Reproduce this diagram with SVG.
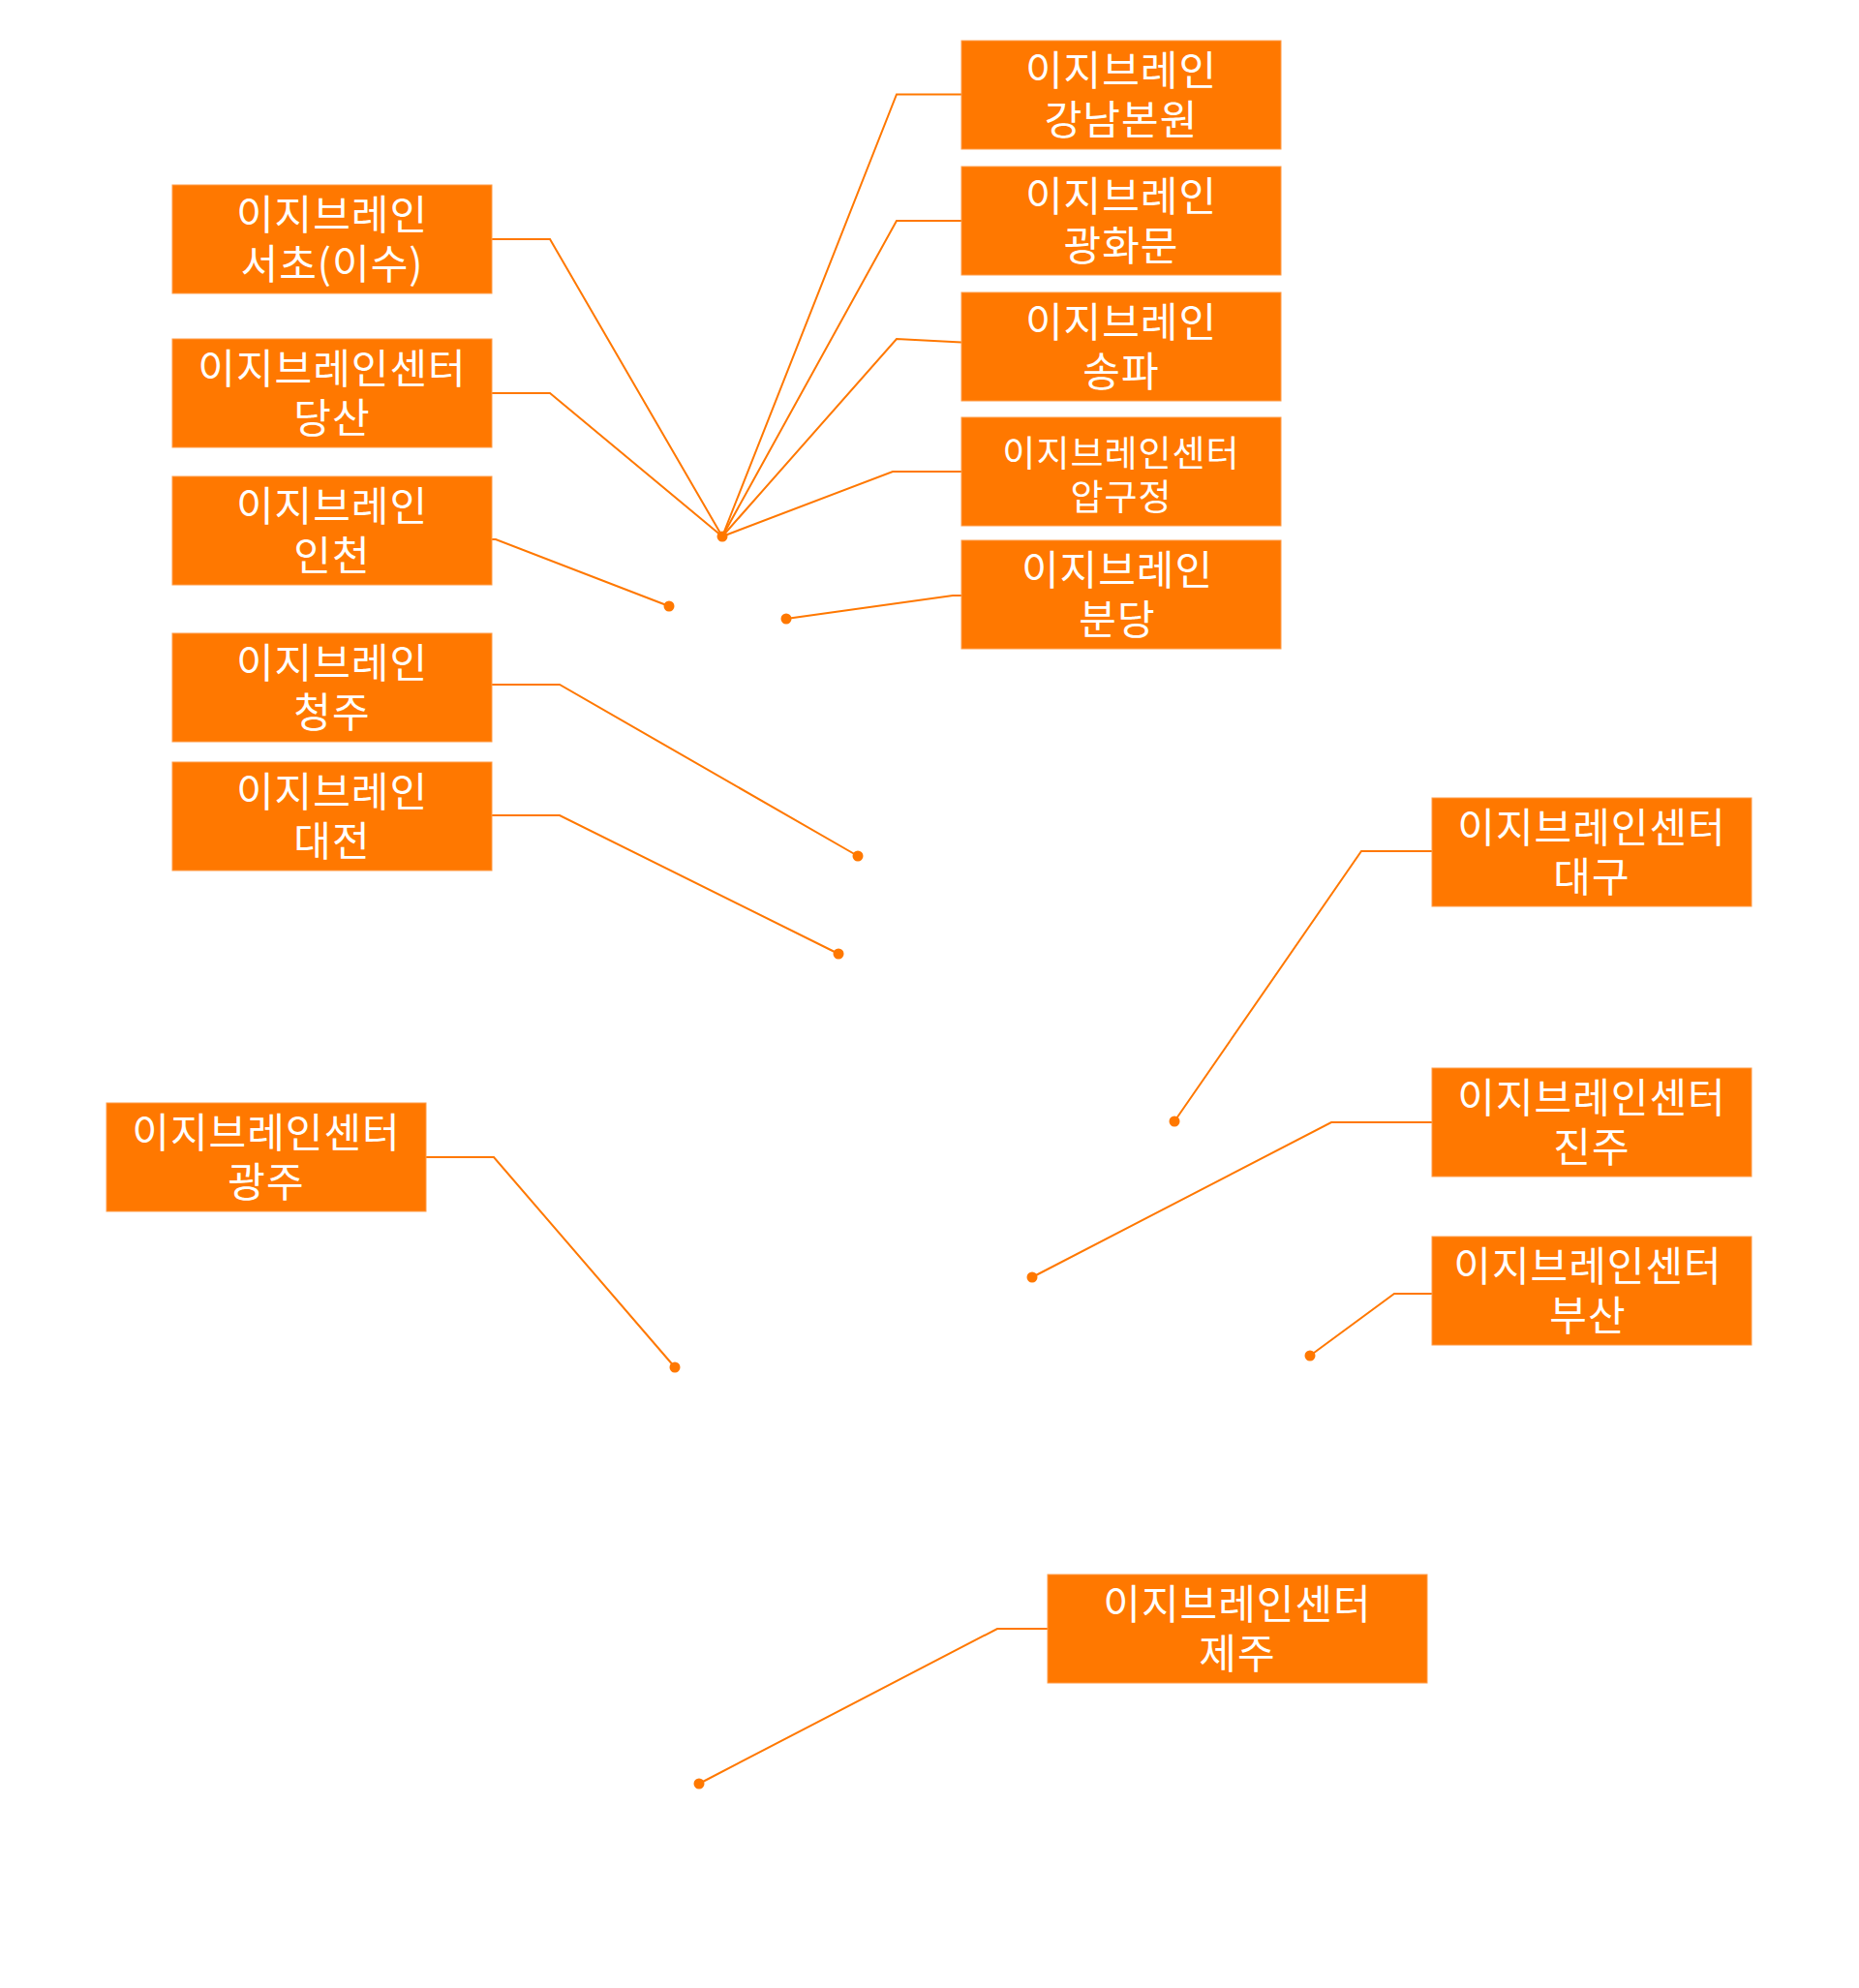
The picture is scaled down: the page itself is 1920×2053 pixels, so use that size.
<svg xmlns="http://www.w3.org/2000/svg" width="1920" height="2053" viewBox="0 0 1920 2053">
<style>
.box{fill:#FF7800;stroke:#FF9C48;stroke-width:1}
.t{fill:#ffffff;font-family:"Noto Sans CJK KR","Noto Sans",sans-serif;font-size:42px;letter-spacing:1px;text-anchor:middle}
.ts{font-size:37px}
.ln{fill:none;stroke:#FF7800;stroke-width:2;stroke-linejoin:miter}
.dot{fill:#FF7800}
</style>
<rect width="1920" height="2053" fill="#ffffff"/>
<g id="connectors">
<path class="ln" d="M993,97.5 L926,97.5 L746,554"/>
<path class="ln" d="M993,228 L926,228 L746,554"/>
<path class="ln" d="M993,353.5 L926,350 L746,554"/>
<path class="ln" d="M993,487 L922,487 L746,554"/>
<path class="ln" d="M508,247 L568,247 L746,554"/>
<path class="ln" d="M508,406 L568,406 L746,554"/>
<path class="ln" d="M508,557 L512,557 L691,626"/>
<path class="ln" d="M993,615 L984,615 L812,639"/>
<path class="ln" d="M508,707 L578,707 L886,884"/>
<path class="ln" d="M508,842 L578,842 L866,985"/>
<path class="ln" d="M1479,879 L1406,879 L1213,1158"/>
<path class="ln" d="M1479,1159 L1375,1159 L1066,1319"/>
<path class="ln" d="M1479,1336 L1440,1336 L1353,1400"/>
<path class="ln" d="M440,1195 L510,1195 L697,1412"/>
<path class="ln" d="M1082,1682 L1030,1682 L722,1842"/>
<circle class="dot" cx="746" cy="554" r="5.5"/>
<circle class="dot" cx="691" cy="626" r="5.5"/>
<circle class="dot" cx="812" cy="639" r="5.5"/>
<circle class="dot" cx="886" cy="884" r="5.5"/>
<circle class="dot" cx="866" cy="985" r="5.5"/>
<circle class="dot" cx="1213" cy="1158" r="5.5"/>
<circle class="dot" cx="1066" cy="1319" r="5.5"/>
<circle class="dot" cx="1353" cy="1400" r="5.5"/>
<circle class="dot" cx="697" cy="1412" r="5.5"/>
<circle class="dot" cx="722" cy="1842" r="5.5"/>
</g>
<g id="gangnam">
<rect class="box" x="993" y="42" width="330" height="112"/>
<text class="t"><tspan x="1158" y="88">이지브레인</tspan><tspan x="1158" y="139">강남본원</tspan></text>
</g>
<g id="gwanghwamun">
<rect class="box" x="993" y="172" width="330" height="112"/>
<text class="t"><tspan x="1158" y="218">이지브레인</tspan><tspan x="1158" y="269">광화문</tspan></text>
</g>
<g id="songpa">
<rect class="box" x="993" y="302" width="330" height="112"/>
<text class="t"><tspan x="1158" y="348">이지브레인</tspan><tspan x="1158" y="399">송파</tspan></text>
</g>
<g id="apgujeong">
<rect class="box" x="993" y="431" width="330" height="112"/>
<text class="t ts"><tspan x="1158" y="482">이지브레인센터</tspan><tspan x="1158" y="527">압구정</tspan></text>
</g>
<g id="bundang">
<rect class="box" x="993" y="558" width="330" height="112"/>
<text class="t"><tspan x="1154" y="604">이지브레인</tspan><tspan x="1154" y="655">분당</tspan></text>
</g>
<g id="seocho">
<rect class="box" x="178" y="191" width="330" height="112"/>
<text class="t"><tspan x="343" y="237">이지브레인</tspan><tspan x="343" y="288">서초(이수)</tspan></text>
</g>
<g id="dangsan">
<rect class="box" x="178" y="350" width="330" height="112"/>
<text class="t"><tspan x="343" y="396">이지브레인센터</tspan><tspan x="343" y="447">당산</tspan></text>
</g>
<g id="incheon">
<rect class="box" x="178" y="492" width="330" height="112"/>
<text class="t"><tspan x="343" y="538">이지브레인</tspan><tspan x="343" y="589">인천</tspan></text>
</g>
<g id="cheongju">
<rect class="box" x="178" y="654" width="330" height="112"/>
<text class="t"><tspan x="343" y="700">이지브레인</tspan><tspan x="343" y="751">청주</tspan></text>
</g>
<g id="daejeon">
<rect class="box" x="178" y="787" width="330" height="112"/>
<text class="t"><tspan x="343" y="833">이지브레인</tspan><tspan x="343" y="884">대전</tspan></text>
</g>
<g id="daegu">
<rect class="box" x="1479" y="824" width="330" height="112"/>
<text class="t"><tspan x="1644" y="870">이지브레인센터</tspan><tspan x="1644" y="921">대구</tspan></text>
</g>
<g id="jinju">
<rect class="box" x="1479" y="1103" width="330" height="112"/>
<text class="t"><tspan x="1644" y="1149">이지브레인센터</tspan><tspan x="1644" y="1200">진주</tspan></text>
</g>
<g id="busan">
<rect class="box" x="1479" y="1277" width="330" height="112"/>
<text class="t"><tspan x="1640" y="1323">이지브레인센터</tspan><tspan x="1640" y="1374">부산</tspan></text>
</g>
<g id="gwangju">
<rect class="box" x="110" y="1139" width="330" height="112"/>
<text class="t"><tspan x="275" y="1185">이지브레인센터</tspan><tspan x="275" y="1236">광주</tspan></text>
</g>
<g id="jeju">
<rect class="box" x="1082" y="1626" width="392" height="112"/>
<text class="t"><tspan x="1278" y="1672">이지브레인센터</tspan><tspan x="1278" y="1723">제주</tspan></text>
</g>
</svg>
